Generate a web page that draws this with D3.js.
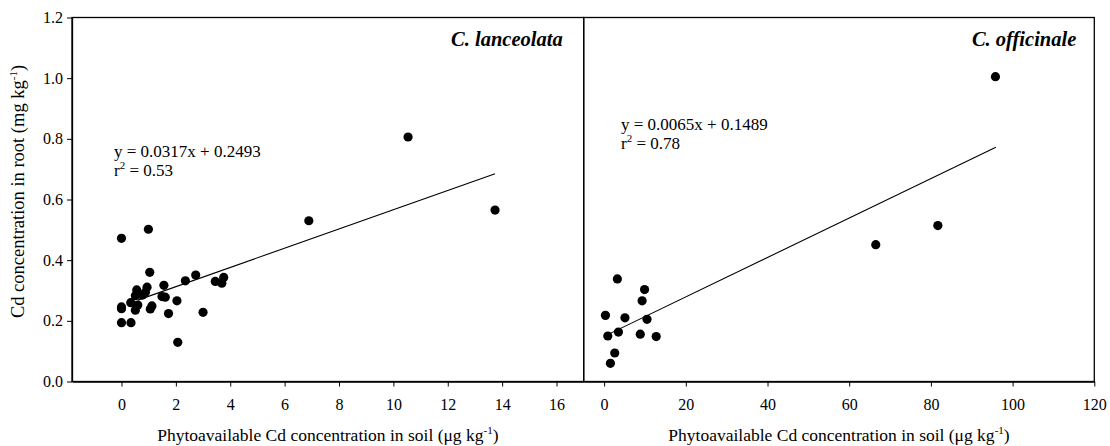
<!DOCTYPE html>
<html>
<head>
<meta charset="utf-8">
<script src="https://cdn.jsdelivr.net/npm/d3@7"></script>
<style>
  body { margin: 0; background: #fff; }
  svg text { font-family: "Liberation Serif", "Times New Roman", serif; fill: #000; }
</style>
</head>
<body>
<div id="chart"></div>
<script>
// Daten: C. lanceolata (links)
const lanceX = [0, 0.99, 1.04, 2.73, 2.35, 1.56, 3.45, 3.76, 3.69, 0.56, 0.94, 0.88, 0.77, 0.51,
  1.49, 1.61, 2.04, 0.34, 0.60, 0, 0, 1.12, 1.06, 0.51, 1.73, 3.00, 0, 0.35, 2.07, 6.89, 10.54, 13.74];
const lanceY = [0.472, 0.502, 0.360, 0.351, 0.332, 0.317, 0.330, 0.343, 0.324, 0.302, 0.311, 0.294, 0.285, 0.283,
  0.280, 0.278, 0.266, 0.260, 0.252, 0.246, 0.240, 0.249, 0.239, 0.235, 0.224, 0.228, 0.194, 0.194, 0.129, 0.530, 0.806, 0.565];

// Daten: C. officinale (rechts)
const offiX = [3.24, 9.9, 9.3, 0.32, 5.1, 10.5, 0.9, 3.5, 8.85, 12.75, 2.6, 1.54, 66.5, 81.7, 95.8];
const offiY = [0.338, 0.303, 0.266, 0.218, 0.210, 0.205, 0.150, 0.163, 0.156, 0.148, 0.094, 0.060, 0.451, 0.514, 1.005];

// Regressionen: [Steigung, Achsenabschnitt], Linienbereich in x
const lanceFit = [0.0317, 0.2493];
const lanceFitRange = [0.6, 13.74];
const offiFit = [0.0065, 0.1489];
const offiFitRange = [1.5, 95.9];

// Achsen-Ticks
const yTicks = [0, 0.2, 0.4, 0.6, 0.8, 1.0, 1.2];
const lanceTicks = [0, 2, 4, 6, 8, 10, 12, 14, 16];
const offiTicks = [0, 20, 40, 60, 80, 100, 120];

const width = 1110, height = 446;
const plotTop = 17.5, plotBottom = 381.5;

const svg = d3.select("#chart").append("svg")
  .attr("width", width)
  .attr("height", height);

const y = d3.scaleLinear().domain([0, 1.2]).range([plotBottom, plotTop]);

const panels = [
  { name: "C. lanceolata", xs: lanceX, ys: lanceY, fit: lanceFit, fitRange: lanceFitRange,
    ticks: lanceTicks, domain: [-1.82, 17], range: [72, 583.7], eqPos: [114, 157], r2: "0.53", nameOff: 21 },
  { name: "C. officinale", xs: offiX, ys: offiY, fit: offiFit, fitRange: offiFitRange,
    ticks: offiTicks, domain: [-5, 120], range: [583.7, 1094.3], eqPos: [621, 130], r2: "0.78", nameOff: 18 }
];

panels.forEach(p => {
  const x = d3.scaleLinear().domain(p.domain).range(p.range);
  const g = svg.append("g");

  // Rahmen
  g.append("rect")
    .attr("x", p.range[0]).attr("y", plotTop)
    .attr("width", p.range[1] - p.range[0]).attr("height", plotBottom - plotTop)
    .attr("fill", "none").attr("stroke", "#000").attr("stroke-width", 1.3);

  // x-Achse
  const xAxis = d3.axisBottom(x).tickValues(p.ticks).tickSize(5).tickSizeOuter(0)
    .tickFormat(d3.format("d"));
  const ax = g.append("g").attr("transform", `translate(0,${plotBottom})`).call(xAxis);
  ax.select(".domain").attr("stroke-width", 1.3);
  ax.selectAll("text").attr("font-size", 16).attr("dy", "1.3em")
    .style("font-family", '"Liberation Serif", serif');

  // x-Beschriftung
  const lab = g.append("text")
    .attr("x", (p.range[0] + p.range[1]) / 2).attr("y", 441)
    .attr("text-anchor", "middle").attr("font-size", 17.5);
  lab.append("tspan").text("Phytoavailable Cd concentration in soil (\u03bcg kg");
  lab.append("tspan").attr("dy", -7).attr("font-size", 11).text("-1");
  lab.append("tspan").attr("dy", 7).text(")");

  // Regressionslinie
  const line = d3.line().x(d => x(d)).y(d => y(p.fit[0] * d + p.fit[1]));
  g.append("path").datum(p.fitRange)
    .attr("d", line).attr("fill", "none").attr("stroke", "#000").attr("stroke-width", 1.1);

  // Punkte
  g.selectAll("circle").data(d3.range(p.xs.length)).enter().append("circle")
    .attr("cx", k => x(p.xs[k])).attr("cy", k => y(p.ys[k]))
    .attr("r", 4.6).attr("fill", "#000");

  // Artname
  g.append("text")
    .attr("x", p.range[1] - p.nameOff).attr("y", 46)
    .attr("text-anchor", "end").attr("font-size", 20.5)
    .attr("font-weight", "bold").attr("font-style", "italic")
    .text(p.name);

  // Gleichung
  const sign = p.fit[1] >= 0 ? "+" : "-";
  g.append("text").attr("x", p.eqPos[0]).attr("y", p.eqPos[1]).attr("font-size", 17)
    .text(`y = ${p.fit[0].toFixed(4)}x ${sign} ${Math.abs(p.fit[1]).toFixed(4)}`);
  const r2 = g.append("text").attr("x", p.eqPos[0]).attr("y", p.eqPos[1] + 19).attr("font-size", 17);
  r2.append("tspan").text("r");
  r2.append("tspan").attr("dy", -7).attr("font-size", 11).text("2");
  r2.append("tspan").attr("dy", 7).text(" = " + p.r2);
});

// y-Achse (nur links)
const yAxis = d3.axisLeft(y).tickValues(yTicks).tickSize(5).tickSizeOuter(0)
  .tickFormat(d3.format(".1f"));
const ay = svg.append("g").attr("transform", "translate(72,0)").call(yAxis);
ay.select(".domain").attr("stroke-width", 1.3);
ay.selectAll("text").attr("font-size", 16).attr("x", -9)
  .style("font-family", '"Liberation Serif", serif');

// y-Beschriftung
const yl = svg.append("text")
  .attr("transform", `translate(24,${(plotTop + plotBottom) / 2 - 8}) rotate(-90)`)
  .attr("text-anchor", "middle").attr("font-size", 18.5);
yl.append("tspan").text("Cd concentration in root (mg kg");
yl.append("tspan").attr("dy", -7).attr("font-size", 11).text("-1");
yl.append("tspan").attr("dy", 7).text(")");
</script>
</body>
</html>
